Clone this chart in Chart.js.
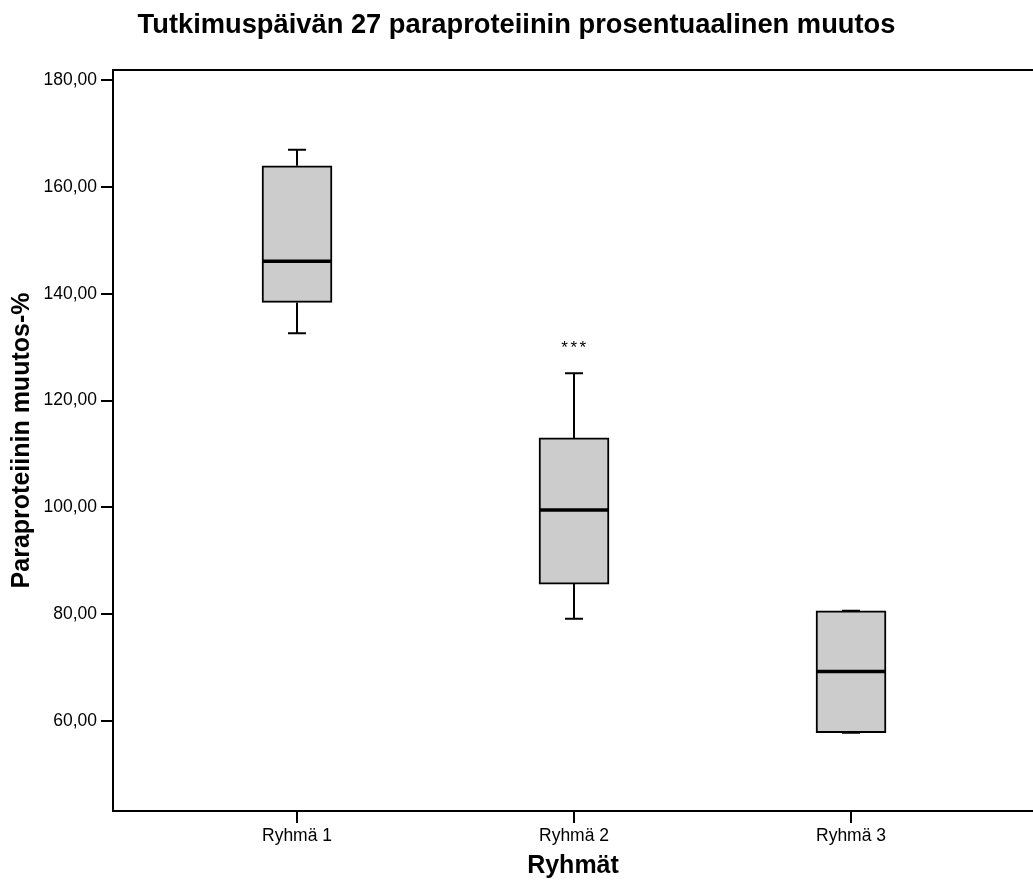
<!DOCTYPE html>
<html lang="fi">
<head>
<meta charset="utf-8">
<title>Paraproteiinin muutos</title>
<script src="https://cdn.jsdelivr.net/npm/chart.js@4.4.1/dist/chart.umd.min.js"></script>
<style>
    html, body { margin: 0; padding: 0; background: #ffffff; overflow: hidden; }
    #wrap { width: 1033px; height: 882px; position: relative; }
</style>
</head>
<body>
<div id="wrap"><canvas id="box-chart"></canvas></div>
<script>
// Data
const groups = ['Ryhmä 1', 'Ryhmä 2', 'Ryhmä 3'];
const groupPositions = [1, 2, 3];
const minValues = [132.6, 79.1, 57.75];
const q1Values = [138.4, 85.6, 57.75];
const medianValues = [146.1, 99.5, 69.2];
const q3Values = [164.0, 113.0, 80.6];
const maxValues = [167.0, 125.1, 80.6];
const markers = ['', '***', ''];
const yTicks = [60, 80, 100, 120, 140, 160, 180];

const FONT = "'Liberation Sans', Arial, Helvetica, sans-serif";

// Whiskers, medians, markers and the top frame line
const boxPlotExtras = {
    id: 'boxPlotExtras',
    afterDatasetsDraw(chart) {
        const ctx = chart.ctx;
        const y = chart.scales.y;
        const area = chart.chartArea;
        const bars = chart.getDatasetMeta(0).data;

        ctx.save();
        ctx.strokeStyle = '#000000';
        ctx.lineCap = 'butt';

        bars.forEach((bar, i) => {
            const cx = bar.x;
            const half = bar.width / 2;
            const capHalf = 9;
            const yMin = y.getPixelForValue(minValues[i]);
            const yQ1 = y.getPixelForValue(q1Values[i]);
            const yQ3 = y.getPixelForValue(q3Values[i]);
            const yMax = y.getPixelForValue(maxValues[i]);
            const yMed = y.getPixelForValue(medianValues[i]);

            // whiskers
            ctx.lineWidth = 2;
            ctx.beginPath();
            ctx.moveTo(cx, yQ3);
            ctx.lineTo(cx, yMax);
            ctx.moveTo(cx, yQ1);
            ctx.lineTo(cx, yMin);
            ctx.moveTo(cx - capHalf, yMax);
            ctx.lineTo(cx + capHalf, yMax);
            ctx.moveTo(cx - capHalf, yMin);
            ctx.lineTo(cx + capHalf, yMin);
            ctx.stroke();

            // median
            ctx.lineWidth = 3.5;
            ctx.beginPath();
            ctx.moveTo(cx - half, yMed);
            ctx.lineTo(cx + half, yMed);
            ctx.stroke();

            // significance marker
            if (markers[i]) {
                ctx.fillStyle = '#000000';
                ctx.font = '17px ' + FONT;
                ctx.textAlign = 'center';
                ctx.textBaseline = 'alphabetic';
                ctx.letterSpacing = '2.5px';
                ctx.fillText(markers[i], cx + 1, yMax - 20);
                ctx.letterSpacing = '0px';
            }
        });

        // top frame line (right edge lies outside the picture)
        ctx.lineWidth = 2;
        ctx.beginPath();
        ctx.moveTo(area.left - 1, area.top);
        ctx.lineTo(area.right + 2, area.top);
        ctx.stroke();
        ctx.restore();
    }
};

const chartEl = document.getElementById('box-chart');

new Chart(chartEl, {
    type: 'bar',
    data: {
        datasets: [{
            data: groupPositions.map((x, i) => ({ x: x, y: [q1Values[i], q3Values[i]] })),
            backgroundColor: '#cccccc',
            borderColor: '#000000',
            borderWidth: 2,
            borderSkipped: false,
            barThickness: 70
        }]
    },
    plugins: [boxPlotExtras],
    options: {
        responsive: true,
        maintainAspectRatio: false,
        animation: false,
        layout: { padding: 0 },
        plugins: {
            legend: { display: false },
            tooltip: { enabled: false },
            title: {
                display: true,
                text: 'Tutkimuspäivän 27 paraproteiinin prosentuaalinen muutos',
                color: '#000000',
                font: { family: FONT, size: 27.3, weight: 'bold' },
                padding: { top: 9, bottom: 28.2 }
            }
        },
        scales: {
            x: {
                type: 'linear',
                position: 'bottom',
                offset: false,
                min: 0.3357,
                max: 3.657,
                afterBuildTicks: (scale) => {
                    scale.ticks = groupPositions.map(v => ({ value: v }));
                },
                afterFit: (scale) => { scale.height = 71; },
                ticks: {
                    color: '#000000',
                    font: { family: FONT, size: 17.5 },
                    padding: 3,
                    maxRotation: 0,
                    autoSkip: false,
                    callback: (value) => groups[groupPositions.indexOf(value)] || ''
                },
                grid: {
                    offset: false,
                    drawOnChartArea: false,
                    drawTicks: true,
                    tickLength: 12,
                    color: '#000000',
                    lineWidth: 2
                },
                border: { display: true, color: '#000000', width: 2 },
                title: {
                    display: true,
                    text: 'Ryhmät',
                    color: '#000000',
                    font: { family: FONT, size: 25, weight: 'bold' },
                    padding: { top: 0, bottom: 1 }
                }
            },
            y: {
                min: 43.07,
                max: 181.97,
                afterBuildTicks: (scale) => {
                    scale.ticks = yTicks.map(v => ({ value: v }));
                },
                afterFit: (scale) => { scale.width = 113; },
                ticks: {
                    color: '#000000',
                    font: { family: FONT, size: 17.5 },
                    padding: 4,
                    callback: (value) => value.toFixed(2).replace('.', ',')
                },
                grid: {
                    drawOnChartArea: false,
                    drawTicks: true,
                    tickLength: 12,
                    color: '#000000',
                    lineWidth: 2
                },
                border: { display: true, color: '#000000', width: 2 },
                title: {
                    display: true,
                    text: 'Paraproteiinin muutos-%',
                    color: '#000000',
                    font: { family: FONT, size: 25, weight: 'bold' },
                    padding: { top: 7, bottom: 0 }
                }
            }
        }
    }
});
</script>
</body>
</html>
